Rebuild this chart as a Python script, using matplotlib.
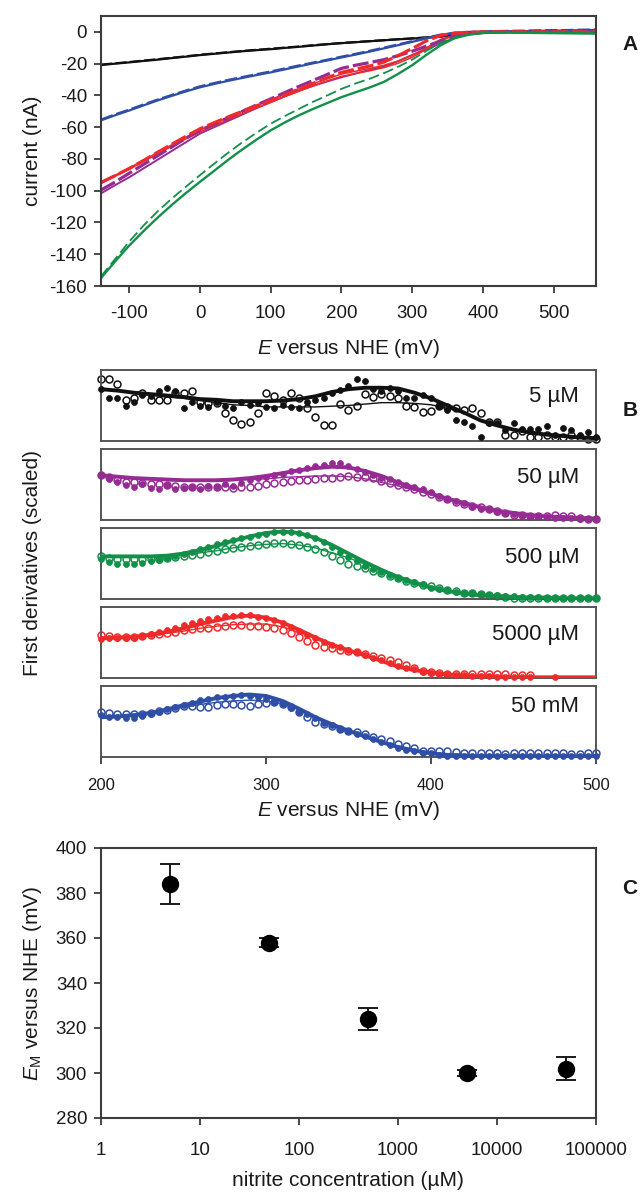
import numpy as np
import matplotlib
matplotlib.use('Agg')
import matplotlib.pyplot as plt

plt.rcParams['font.family'] = ['Liberation Sans', 'DejaVu Sans']
plt.rcParams['axes.unicode_minus'] = False
plt.rcParams['mathtext.fontset'] = 'custom'
plt.rcParams['mathtext.rm'] = 'Liberation Sans'
plt.rcParams['mathtext.it'] = 'Liberation Sans:italic'
plt.rcParams['mathtext.bf'] = 'Liberation Sans:bold'

# ---------------- Panel A data: current (nA) vs E (mV) ----------------
E_A = [-140, -120, -100, -80, -60, -40, -20, 0, 20, 40, 60, 80, 100, 120, 140, 160, 180, 200,
       220, 240, 260, 280, 300, 320, 340, 360, 380, 400, 420, 440, 460, 480, 500, 520, 540, 560]
black_solid = [-20.9, -20.0, -19.2, -18.3, -17.5, -16.5, -15.6, -14.6, -13.8, -13.0, -12.2, -11.5,
               -10.9, -10.1, -9.4, -8.6, -7.8, -7.1, -6.5, -5.9, -5.3, -4.7, -4.2, -3.6, -3.0, -2.2,
               -1.4, -0.7, -0.3, -0.1, 0, 0, 0, 0, 0, 0]
black_dash = [-20.6, -19.8, -19.0, -18.1, -17.2, -16.3, -15.4, -14.4, -13.6, -12.8, -12.0, -11.3,
              -10.6, -9.9, -9.2, -8.4, -7.7, -7.0, -6.4, -5.8, -5.2, -4.6, -4.1, -3.5, -2.8, -2.0,
              -1.2, -0.5, -0.2, 0, 0, 0, 0, 0, 0, 0]
blue_solid = [-55.7, -52.5, -49.5, -46.3, -43.2, -40.3, -37.5, -34.9, -32.8, -30.8, -29.0, -27.2,
              -25.5, -23.6, -21.7, -19.8, -18.0, -16.1, -14.3, -12.4, -10.4, -8.4, -6.3, -4.2, -2.2,
              -0.9, -0.3, 0, 0.2, 0.4, 0.5, 0.7, 0.8, 0.9, 1.1, 1.2]
blue_dash = [-55.3, -52.0, -49.0, -45.8, -42.7, -39.8, -37.0, -34.4, -32.3, -30.3, -28.5, -26.7,
             -25.0, -23.1, -21.2, -19.4, -17.6, -15.7, -13.9, -12.0, -10.0, -8.0, -5.9, -3.8, -1.8,
             -0.6, -0.1, 0.2, 0.4, 0.6, 0.7, 0.9, 1.0, 1.1, 1.3, 1.4]
red_solid = [-95.4, -91.0, -86.5, -81.7, -76.8, -72.0, -67.4, -63.0, -59.0, -55.2, -51.5, -47.8,
             -44.3, -40.8, -37.4, -34.0, -30.8, -28.0, -26.2, -24.5, -22.5, -19.8, -16.0, -11.0,
             -5.5, -2.3, -0.8, -0.2, 0, 0, 0, 0, 0, 0, 0, 0]
red_solid2 = [-94.6, -90.2, -85.6, -80.8, -75.9, -71.1, -66.4, -62.0, -57.8, -53.8, -50.0, -46.3,
              -42.8, -39.3, -35.9, -32.6, -29.5, -26.6, -24.8, -23.0, -21.0, -18.4, -14.8, -10.0,
              -4.8, -2.0, -0.6, -0.1, 0, 0, 0, 0, 0, 0, 0, 0]
red_dash = [-94.8, -90.5, -86.0, -81.0, -75.8, -70.8, -65.8, -61.0, -57.2, -53.5, -50.0, -46.6,
            -43.2, -39.6, -36.0, -32.4, -28.9, -25.5, -23.5, -21.5, -19.0, -15.0, -10.5, -5.7,
            -2.3, -0.8, -0.2, 0, 0, 0, 0, 0, 0, 0, 0, 0]
purple_solid = [-101.7, -96.5, -91.5, -86.0, -80.5, -75.0, -69.5, -64.0, -60.0, -56.0, -52.0, -48.0,
                -44.3, -40.5, -37.0, -34.0, -31.2, -28.6, -26.2, -24.0, -21.8, -18.5, -14.5, -11.0,
                -7.3, -3.8, -1.5, -0.5, -0.2, 0, 0, 0, 0, 0, 0, 0]
purple_dash = [-99.6, -94.5, -89.0, -83.5, -78.0, -72.5, -67.0, -62.0, -58.0, -54.0, -50.0, -46.0,
               -42.2, -38.2, -34.3, -30.6, -26.8, -23.0, -21.0, -19.3, -17.5, -15.0, -12.2, -9.0,
               -5.8, -2.8, -1.0, -0.3, 0, 0, 0, 0, 0, 0, 0, 0]
green_solid = [-155.0, -144.5, -134.5, -125.5, -117.0, -109.0, -101.5, -94.4, -87.5, -80.5, -74.0,
               -67.8, -62.0, -57.0, -52.5, -48.5, -44.8, -41.1, -38.0, -35.0, -31.5, -26.5, -21.0,
               -14.5, -8.5, -4.0, -1.8, -0.7, -0.4, -0.5, -0.6, -0.7, -0.8, -0.9, -1.0, -1.1]
green_dash = [-154.0, -143.0, -132.0, -122.0, -113.0, -105.0, -97.5, -90.2, -83.0, -76.0, -69.5,
              -63.5, -57.8, -53.0, -48.5, -44.0, -40.0, -35.9, -32.5, -29.5, -26.0, -22.0, -17.5,
              -12.0, -7.0, -3.5, -1.5, -0.6, -0.3, -0.3, -0.3, -0.3, -0.3, -0.3, -0.3, -0.3]

# ---------------- Panel B data: scaled first derivatives ----------------
E_B_pts = list(range(200, 505, 5))     # data points (mV)
E_B_fit = list(range(200, 510, 10))    # fitted curves (mV)
B_labels = ['5 µM', '50 µM', '500 µM', '5000 µM', '50 mM']

filled_5uM = [0.73, 0.61, 0.61, 0.49, 0.55, 0.65, 0.63, 0.70, 0.75, 0.71, 0.46, 0.55, 0.49, 0.48, 0.55,
              0.49, 0.47, 0.55, 0.50, 0.53, 0.48, 0.46, 0.50, 0.48, 0.46, 0.55, 0.58, 0.61, 0.68, 0.72,
              0.77, 0.88, 0.85, 0.73, 0.71, 0.74, 0.71, 0.60, 0.61, 0.65, 0.61, 0.49, 0.43, 0.30, 0.27,
              0.21, 0.05, 0.25, 0.25, 0.16, 0.25, 0.17, 0.17, 0.17, 0.21, 0.08, 0.19, 0.15, 0.08, 0.13,
              0.05]
open_5uM = [0.88, 0.88, 0.80, 0.58, 0.60, 0.68, 0.58, 0.58, 0.58, 0.67, 0.68, 0.71, 0.55, 0.53, 0.53,
            0.40, 0.30, 0.24, 0.27, 0.40, 0.68, 0.63, 0.58, 0.68, 0.60, 0.47, 0.34, 0.22, 0.22, 0.52,
            0.44, 0.49, 0.66, 0.62, 0.66, 0.63, 0.60, 0.49, 0.48, 0.41, 0.42, 0.49, 0.48, 0.46, 0.43,
            0.46, 0.39, 0.27, 0.27, 0.09, 0.08, 0.14, 0.06, 0.05, 0.08, 0.06, 0.05, 0.08, 0.05, 0.03,
            0.03]
thick_5uM = [0.73, 0.71, 0.68, 0.66, 0.64, 0.62, 0.59, 0.58, 0.56, 0.56, 0.56, 0.57, 0.59, 0.63, 0.69,
             0.73, 0.75, 0.75, 0.74, 0.68, 0.60, 0.50, 0.40, 0.29, 0.22, 0.16, 0.12, 0.09, 0.07, 0.05,
             0.04]
thin_5uM = [0.73, 0.71, 0.68, 0.65, 0.62, 0.60, 0.57, 0.54, 0.51, 0.50, 0.48, 0.48, 0.48, 0.48, 0.49,
            0.50, 0.52, 0.54, 0.54, 0.53, 0.51, 0.46, 0.39, 0.30, 0.22, 0.16, 0.12, 0.09, 0.07, 0.05,
            0.04]

filled_50uM = [0.64, 0.58, 0.54, 0.49, 0.46, 0.50, 0.45, 0.44, 0.49, 0.43, 0.45, 0.46, 0.44, 0.48, 0.46,
               0.50, 0.48, 0.52, 0.56, 0.59, 0.60, 0.63, 0.65, 0.69, 0.71, 0.73, 0.76, 0.78, 0.80, 0.80,
               0.76, 0.72, 0.68, 0.64, 0.59, 0.58, 0.54, 0.49, 0.46, 0.43, 0.39, 0.34, 0.30, 0.27, 0.24,
               0.19, 0.16, 0.15, 0.11, 0.10, 0.08, 0.07, 0.06, 0.05, 0.04, 0.03, 0.03, 0.03, 0.02, 0.02,
               0.02]
open_50uM = [0.64, 0.60, 0.56, 0.54, 0.53, 0.52, 0.50, 0.50, 0.49, 0.48, 0.47, 0.47, 0.46, 0.47, 0.46,
             0.46, 0.45, 0.46, 0.47, 0.48, 0.50, 0.52, 0.53, 0.55, 0.56, 0.57, 0.58, 0.59, 0.59, 0.61,
             0.62, 0.61, 0.60, 0.59, 0.55, 0.52, 0.49, 0.46, 0.43, 0.40, 0.37, 0.33, 0.29, 0.26, 0.22,
             0.20, 0.18, 0.15, 0.13, 0.10, 0.07, 0.07, 0.06, 0.06, 0.06, 0.07, 0.06, 0.05, 0.03, 0.02,
             0.02]
thick_50uM = [0.63, 0.61, 0.59, 0.58, 0.57, 0.56, 0.56, 0.56, 0.57, 0.59, 0.62, 0.66, 0.70, 0.73, 0.75,
              0.74, 0.69, 0.62, 0.53, 0.45, 0.37, 0.30, 0.24, 0.18, 0.13, 0.10, 0.07, 0.05, 0.04, 0.03,
              0.02]
thin_50uM = [0.63, 0.61, 0.59, 0.57, 0.56, 0.55, 0.55, 0.55, 0.56, 0.57, 0.58, 0.60, 0.61, 0.62, 0.62,
             0.61, 0.58, 0.53, 0.48, 0.42, 0.36, 0.29, 0.23, 0.18, 0.13, 0.10, 0.07, 0.05, 0.04, 0.03,
             0.02]

filled_500uM = [0.56, 0.52, 0.50, 0.49, 0.50, 0.51, 0.53, 0.55, 0.58, 0.60, 0.63, 0.66, 0.70, 0.73, 0.77,
                0.80, 0.83, 0.86, 0.88, 0.90, 0.92, 0.94, 0.95, 0.95, 0.93, 0.90, 0.86, 0.80, 0.73, 0.66,
                0.59, 0.53, 0.47, 0.42, 0.38, 0.34, 0.30, 0.27, 0.24, 0.21, 0.16, 0.14, 0.12, 0.10, 0.09,
                0.08, 0.07, 0.06, 0.05, 0.04, 0.04, 0.03, 0.03, 0.03, 0.02, 0.02, 0.02, 0.02, 0.02, 0.02,
                0.01]
open_500uM = [0.60, 0.58, 0.57, 0.56, 0.56, 0.56, 0.56, 0.57, 0.58, 0.59, 0.60, 0.62, 0.64, 0.66, 0.68,
              0.70, 0.72, 0.73, 0.75, 0.76, 0.78, 0.79, 0.79, 0.78, 0.76, 0.73, 0.70, 0.66, 0.60, 0.55,
              0.50, 0.46, 0.43, 0.39, 0.36, 0.32, 0.29, 0.26, 0.23, 0.20, 0.18, 0.15, 0.13, 0.11, 0.09,
              0.08, 0.07, 0.05, 0.04, 0.03, 0.02, 0.02, 0.02, 0.02, 0.02, 0.01, 0.01, 0.01, 0.01, 0.01,
              0.01]
thick_500uM = [0.60, 0.60, 0.60, 0.60, 0.61, 0.64, 0.69, 0.75, 0.82, 0.88, 0.93, 0.95, 0.93, 0.86, 0.76,
               0.64, 0.52, 0.41, 0.31, 0.23, 0.16, 0.11, 0.08, 0.05, 0.04, 0.03, 0.02, 0.02, 0.01, 0.01,
               0.01]
thin_500uM = [0.60, 0.60, 0.60, 0.60, 0.60, 0.62, 0.65, 0.68, 0.72, 0.75, 0.77, 0.78, 0.76, 0.72, 0.65,
              0.58, 0.49, 0.40, 0.31, 0.23, 0.16, 0.11, 0.08, 0.05, 0.04, 0.03, 0.02, 0.02, 0.01, 0.01,
              0.01]

filled_5000uM = [0.55, 0.56, 0.56, 0.57, 0.57, 0.59, 0.62, 0.65, 0.68, 0.71, 0.74, 0.77, 0.80, 0.83, 0.85,
                 0.87, 0.88, 0.89, 0.89, 0.86, 0.84, 0.81, 0.77, 0.72, 0.66, 0.61, 0.56, 0.51, 0.47, 0.43,
                 0.40, 0.36, 0.32, 0.28, 0.25, 0.21, 0.17, 0.14, 0.12, 0.09, 0.07, 0.06, 0.05, 0.04, 0.04,
                 0.03, 0.03, 0.03, 0.02, 0.02, 0.02, 0.02, 0.02, None, None, 0.01, None, None, None, None,
                 None]
open_5000uM = [0.60, 0.59, 0.58, 0.58, 0.58, 0.59, 0.60, 0.62, 0.63, 0.65, 0.67, 0.69, 0.70, 0.71, 0.72,
               0.73, 0.74, 0.74, 0.73, 0.73, 0.72, 0.70, 0.68, 0.63, 0.58, 0.52, 0.47, 0.44, 0.42, 0.40,
               0.38, 0.36, 0.34, 0.31, 0.28, 0.25, 0.22, 0.18, 0.14, 0.10, 0.08, 0.07, 0.06, 0.06, 0.05,
               0.05, 0.05, 0.05, 0.05, 0.05, 0.04, 0.04, 0.04, None, None, None, None, None, None, None,
               None]
thick_5000uM = [0.56, 0.57, 0.58, 0.61, 0.65, 0.70, 0.76, 0.81, 0.86, 0.88, 0.85, 0.78, 0.68, 0.57, 0.47,
                0.39, 0.32, 0.24, 0.16, 0.11, 0.08, 0.05, 0.03, 0.02, 0.02, 0.01, 0.01, 0.01, 0.01, 0.01,
                0.01]
thin_5000uM = [0.56, 0.57, 0.58, 0.60, 0.63, 0.66, 0.70, 0.73, 0.75, 0.76, 0.76, 0.72, 0.64, 0.56, 0.47,
               0.39, 0.32, 0.24, 0.16, 0.11, 0.08, 0.05, 0.03, 0.02, 0.02, 0.01, 0.01, 0.01, 0.01, 0.01,
               0.01]

filled_50mM = [0.59, 0.57, 0.56, 0.55, 0.55, 0.58, 0.61, 0.64, 0.67, 0.70, 0.73, 0.76, 0.80, 0.82, 0.84,
               0.85, 0.86, 0.88, 0.86, 0.84, 0.81, 0.77, 0.74, 0.69, 0.64, 0.60, 0.55, 0.48, 0.45, 0.40,
               0.36, 0.32, 0.29, 0.25, 0.21, 0.17, 0.13, 0.10, 0.08, 0.06, 0.05, 0.03, 0.02, 0.02, 0.02,
               0.01, 0.01, 0.01, 0.01, 0.01, 0.01, 0.01, 0.01, 0.01, 0.01, 0.01, 0.01, 0.01, 0.01, 0.01,
               0.01]
open_50mM = [0.63, 0.62, 0.60, 0.60, 0.60, 0.61, 0.62, 0.65, 0.66, 0.69, 0.72, 0.72, 0.71, 0.70, 0.73,
             0.74, 0.74, 0.73, 0.72, 0.75, 0.76, 0.77, 0.75, 0.70, 0.63, 0.57, 0.49, 0.46, 0.43, 0.40,
             0.37, 0.35, 0.32, 0.28, 0.25, 0.22, 0.19, 0.15, 0.12, 0.09, 0.08, 0.08, 0.08, 0.07, 0.06,
             0.06, 0.05, 0.05, 0.05, 0.04, 0.05, 0.05, 0.05, 0.06, 0.06, 0.06, 0.05, 0.04, 0.04, 0.05,
             0.05]
thick_50mM = [0.56, 0.57, 0.59, 0.62, 0.67, 0.73, 0.78, 0.83, 0.86, 0.88, 0.86, 0.79, 0.68, 0.56, 0.46,
              0.37, 0.29, 0.21, 0.14, 0.09, 0.05, 0.03, 0.02, 0.01, 0.01, 0.01, 0.01, 0.01, 0.01, 0.01,
              0.01]
thin_50mM = [0.56, 0.57, 0.59, 0.62, 0.66, 0.70, 0.74, 0.77, 0.79, 0.80, 0.79, 0.75, 0.67, 0.56, 0.46,
             0.37, 0.29, 0.21, 0.14, 0.09, 0.05, 0.03, 0.02, 0.01, 0.01, 0.01, 0.01, 0.01, 0.01, 0.01,
             0.01]

# ---------------- Panel C data ----------------
nitrite_uM = [5, 50, 500, 5000, 50000]
EM_mV = [384, 358, 324, 300, 302]
EM_err = [9, 1.8, 5, 1.5, 5]

# ---------------- colours ----------------
C_BLACK = '#111111'
C_BLUE = '#2f4ea6'
C_RED = '#ee2b2a'
C_PURPLE = '#962b94'
C_GREEN = '#12904a'
SPINE = '#3c3c3c'

W, H = 643, 1192
fig = plt.figure(figsize=(W / 100, H / 100), dpi=100)


def px_axes(left, top, right, bottom):
    return fig.add_axes([left / W, 1 - bottom / H, (right - left) / W, (bottom - top) / H])


def style_box(ax, lw=1.5, color=SPINE):
    for s in ax.spines.values():
        s.set_linewidth(lw)
        s.set_color(color)
    ax.tick_params(direction='out', length=5, width=1.3, color=SPINE,
                   top=False, right=False, labelcolor='#1a1a1a')


# ---------------- Panel A ----------------
axA = px_axes(101, 16, 596, 286)
style_box(axA)
axA.plot(E_A, black_dash, color=C_BLACK, lw=1.6, dashes=(5, 1.5))
axA.plot(E_A, black_solid, color=C_BLACK, lw=1.6)
axA.plot(E_A, blue_dash, color=C_BLUE, lw=1.8, dashes=(5, 1.5))
axA.plot(E_A, blue_solid, color=C_BLUE, lw=1.6)
axA.plot(E_A, purple_solid, color=C_PURPLE, lw=1.4)
axA.plot(E_A, red_solid, color=C_RED, lw=1.1)
axA.plot(E_A, red_solid2, color=C_RED, lw=1.1)
axA.plot(E_A, purple_dash, color=C_PURPLE, lw=2.3, dashes=(5, 1.3))
axA.plot(E_A, red_dash, color=C_RED, lw=2.3, dashes=(5, 1.3))
axA.plot(E_A, green_dash, color=C_GREEN, lw=1.3, dashes=(6, 2.5))
axA.plot(E_A, green_solid, color=C_GREEN, lw=1.7)
axA.set_xlim(-140, 560)
axA.set_ylim(-160, 10)
axA.set_xticks(range(-100, 600, 100))
axA.set_yticks(range(-160, 1, 20))
axA.tick_params(labelsize=13.5)
axA.tick_params(axis='x', pad=9)
axA.tick_params(axis='y', pad=5)

# ---------------- Panel B ----------------
B_series = [
    (filled_5uM, open_5uM, thick_5uM, thin_5uM, C_BLACK),
    (filled_50uM, open_50uM, thick_50uM, thin_50uM, C_PURPLE),
    (filled_500uM, open_500uM, thick_500uM, thin_500uM, C_GREEN),
    (filled_5000uM, open_5000uM, thick_5000uM, thin_5000uM, C_RED),
    (filled_50mM, open_50mM, thick_50mM, thin_50mM, C_BLUE),
]
B_tops = [370, 449, 528, 607, 686]
B_label_y = [0.63, 0.60, 0.58, 0.61, 0.71]
axesB = []
for k, (fl, op, th, tn, col) in enumerate(B_series):
    ax = px_axes(101, B_tops[k], 596, B_tops[k] + 71)
    style_box(ax, lw=1.4, color='#555555')
    fl = np.array(fl, dtype=float)
    op = np.array(op, dtype=float)
    ax.plot(E_B_pts, op, ls='none', marker='o', ms=5, mfc='white', mec=col, mew=1.1,
            clip_on=False, zorder=2)
    ax.plot(E_B_pts, fl, ls='none', marker='o', ms=4.3, mfc=col, mec=col, mew=0.5,
            clip_on=False, zorder=3)
    ax.plot(E_B_fit, tn, color=col, lw=1.0, zorder=4)
    ax.plot(E_B_fit, th, color=col, lw=2.8, zorder=4, solid_capstyle='round')
    ax.set_xlim(200, 500)
    ax.set_ylim(0, 1)
    ax.set_yticks([])
    ax.text(0.966, B_label_y[k], B_labels[k], transform=ax.transAxes, ha='right', va='center',
            fontsize=16, color='#1a1a1a')
    if k < 4:
        ax.tick_params(bottom=False, labelbottom=False)
    else:
        ax.set_xticks([200, 300, 400, 500])
        ax.tick_params(labelsize=12, pad=10)
    axesB.append(ax)

# ---------------- Panel C ----------------
axC = px_axes(101, 848, 596, 1118)
style_box(axC)
axC.errorbar(nitrite_uM, EM_mV, yerr=EM_err, fmt='o', color='black', ms=11.5,
             ecolor='#1a1a1a', elinewidth=1.4, capsize=7, capthick=1.4)
axC.set_xscale('log')
axC.set_xlim(1, 1e5)
axC.set_ylim(280, 400)
axC.set_yticks(range(280, 401, 20))
axC.set_xticks([1, 10, 100, 1000, 10000, 100000])
axC.set_xticklabels(['1', '10', '100', '1000', '10000', '100000'])
axC.minorticks_off()
axC.tick_params(labelsize=13.5)
axC.tick_params(axis='x', pad=12)
axC.tick_params(axis='y', pad=5)

# ---------------- labels ----------------
lab_kw = dict(fontsize=15, color='#1a1a1a', ha='center', va='center')
fig.text(33 / W, 1 - 151 / H, 'current (nA)', rotation=90, **lab_kw)
fig.text(348 / W, 1 - 348 / H, r'$E$ versus NHE (mV)', **lab_kw)
fig.text(33 / W, 1 - 563 / H, 'First derivatives (scaled)', rotation=90, **lab_kw)
fig.text(348 / W, 1 - 810 / H, r'$E$ versus NHE (mV)', **lab_kw)
fig.text(33 / W, 1 - 983 / H, r'$E_{\mathrm{M}}$ versus NHE (mV)', rotation=90, **lab_kw)
fig.text(348 / W, 1 - 1181 / H, 'nitrite concentration (µM)', **lab_kw)

pan_kw = dict(fontsize=15, fontweight='bold', color='#1a1a1a', ha='center', va='center')
fig.text(630 / W, 1 - 45 / H, 'A', **pan_kw)
fig.text(630 / W, 1 - 410 / H, 'B', **pan_kw)
fig.text(630 / W, 1 - 888 / H, 'C', **pan_kw)

fig.savefig('out.png', dpi=100)
